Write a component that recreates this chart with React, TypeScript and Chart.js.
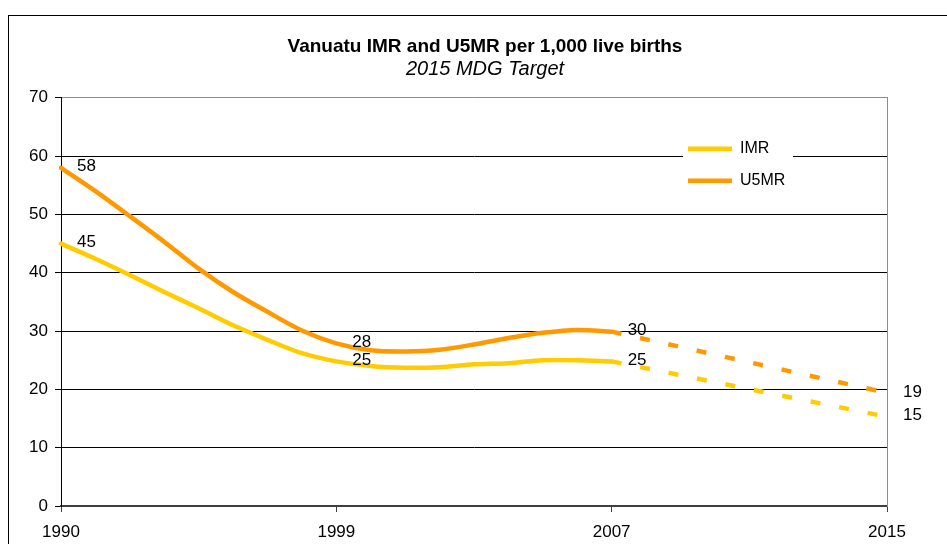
import React, { useEffect, useRef } from "react";
import { Chart, registerables } from "chart.js";

Chart.register(...registerables);

// ---- data ----
const categories = [
  "1990", "1991", "1992", "1993", "1994", "1995", "1996", "1997", "1999",
  "2000", "2001", "2002", "2003", "2004", "2005", "2006", "2007",
  "2008", "2009", "2010", "2011", "2012", "2013", "2014", "2015",
];
const tickIndices = [0, 8, 16, 24];

const imrSeries = [
  45, 42.4, 39.6, 36.7, 33.9, 31.0, 28.5, 26.2, 24.8,
  24.0, 23.7, 23.8, 24.3, 24.5, 25.0, 25.0, 24.8,
  null, null, null, null, null, null, null, null,
];
const u5mrSeries = [
  58, 54.0, 49.7, 45.3, 40.7, 36.7, 33.3, 30.1, 27.9,
  26.7, 26.5, 26.8, 27.7, 28.8, 29.7, 30.2, 29.9,
  null, null, null, null, null, null, null, null,
];
const imrTarget = [
  null, null, null, null, null, null, null, null, null,
  null, null, null, null, null, null, null, 24.8,
  null, null, null, null, null, null, null, 15.3,
];
const u5mrTarget = [
  null, null, null, null, null, null, null, null, null,
  null, null, null, null, null, null, null, 29.9,
  null, null, null, null, null, null, null, 19.4,
];
// which points carry a value label, per dataset index
const labelAt = [[0, 8, 16], [0, 8, 16], [24], [24]];

const yTicksMax = 70;
const titleText = "Vanuatu IMR and U5MR per 1,000 live births";
const subtitleText = "2015 MDG Target";

const IMR_COLOR = "#FFCC00";
const U5MR_COLOR = "#FF9900";
const FONT = '"Liberation Sans", Arial, sans-serif';

const frame = {
  id: "frame",
  beforeDraw(chart: any) {
    const c = chart.ctx;
    c.save();
    c.strokeStyle = "#000";
    c.lineWidth = 1;
    c.strokeRect(8.5, 15.5, 3000, 3000);
    c.restore();
  },
};

const legendPlacer = {
  id: "legendPlacer",
  afterLayout(chart: any) {
    const lg = chart.legend;
    if (!lg) return;
    const ca = chart.chartArea;
    const left = ca.right - 215;
    const top = ca.top + 27;
    lg.left = left;
    lg.top = top;
    lg.width = 130;
    lg.height = 90;
    lg.right = left + 130;
    lg.bottom = top + 90;
    if (!lg._wrappedDraw) {
      const orig = lg.draw.bind(lg);
      lg.draw = function (area: any) {
        const c = chart.ctx;
        const a = chart.chartArea;
        c.save();
        c.fillStyle = "#fff";
        c.fillRect(a.right - 204, a.top + 36, 110, 66);
        c.restore();
        orig(area);
      };
      lg._wrappedDraw = true;
    }
  },
};

const valueLabels = {
  id: "valueLabels",
  afterDatasetsDraw(chart: any) {
    const c = chart.ctx;
    c.save();
    c.font = `17px ${FONT}`;
    c.fillStyle = "#000";
    c.textAlign = "left";
    c.textBaseline = "middle";
    chart.data.datasets.forEach((ds: any, i: number) => {
      const meta = chart.getDatasetMeta(i);
      (labelAt[i] || []).forEach((j) => {
        const el = meta.data[j];
        const v = ds.data[j];
        if (!el || v == null) return;
        c.fillText(String(Math.round(v)), el.x + 16, el.y - 1);
      });
    });
    c.restore();
  },
};

export default function App() {
  const ref = useRef<HTMLCanvasElement>(null);

  useEffect(() => {
    if (!ref.current) return;
    Chart.defaults.font.family = FONT;
    Chart.defaults.color = "#000";
    const chart = new Chart(ref.current, {
      type: "line",
      data: {
        labels: categories,
        datasets: [
          {
            label: "IMR",
            data: imrSeries,
            borderColor: IMR_COLOR,
            backgroundColor: IMR_COLOR,
            borderWidth: 4.5,
            pointRadius: 0,
            tension: 0.3,
            borderCapStyle: "round",
            borderJoinStyle: "round",
            fill: false,
          },
          {
            label: "U5MR",
            data: u5mrSeries,
            borderColor: U5MR_COLOR,
            backgroundColor: U5MR_COLOR,
            borderWidth: 4.5,
            pointRadius: 0,
            tension: 0.3,
            borderCapStyle: "round",
            borderJoinStyle: "round",
            fill: false,
          },
          {
            label: "IMR target",
            data: imrTarget,
            borderColor: IMR_COLOR,
            borderWidth: 4.5,
            borderDash: [10, 19],
            pointRadius: 0,
            spanGaps: true,
            tension: 0,
            fill: false,
          },
          {
            label: "U5MR target",
            data: u5mrTarget,
            borderColor: U5MR_COLOR,
            borderWidth: 4.5,
            borderDash: [10, 19],
            pointRadius: 0,
            spanGaps: true,
            tension: 0,
            fill: false,
          },
        ],
      },
      options: {
        responsive: false,
        animation: false,
        layout: { padding: { left: 25, right: 2, top: 0, bottom: 0 } },
        plugins: {
          title: {
            display: true,
            text: titleText,
            color: "#000",
            font: { size: 19, weight: "bold", family: FONT },
            padding: { top: 35, bottom: 0 },
          },
          subtitle: {
            display: true,
            text: subtitleText,
            color: "#000",
            font: { size: 20, style: "italic", weight: "normal", family: FONT },
            padding: { top: 0, bottom: 16 },
          },
          legend: {
            display: true,
            position: "chartArea",
            align: "start",
            labels: {
              usePointStyle: true,
              pointStyle: "line",
              pointStyleWidth: 44,
              padding: 16,
              color: "#000",
              font: { size: 16, family: FONT },
              filter: (item: any) => item.datasetIndex < 2,
            },
          },
          tooltip: { enabled: false },
        },
        scales: {
          x: {
            type: "category",
            offset: false,
            grid: {
              display: true,
              drawOnChartArea: false,
              drawTicks: true,
              tickLength: 6,
              color: "#404040",
            },
            border: { display: true, color: "#404040", width: 2 },
            ticks: {
              autoSkip: false,
              maxRotation: 0,
              minRotation: 0,
              padding: 10,
              color: "#000",
              font: { size: 17 },
              callback: (_v: any, idx: number) =>
                tickIndices.includes(idx) ? categories[idx] : null,
            },
            afterFit: (s: any) => {
              s.height = 38;
            },
          },
          y: {
            min: 0,
            max: yTicksMax,
            position: "left",
            grid: {
              color: (ctx: any) => (ctx.tick && ctx.tick.value === yTicksMax ? "#8c8c8c" : "#000"),
              tickColor: "#000",
              lineWidth: 1,
              drawTicks: true,
              tickLength: 6,
            },
            border: { display: true, color: "#000", width: 1 },
            ticks: {
              stepSize: 10,
              padding: 7,
              color: "#000",
              font: { size: 17 },
            },
            afterFit: (s: any) => {
              s.width = 36;
            },
          },
          y2: {
            position: "right",
            display: true,
            min: 0,
            max: yTicksMax,
            grid: { display: false, drawTicks: false },
            ticks: { display: false },
            border: { display: true, color: "#8c8c8c", width: 1 },
            afterFit: (s: any) => {
              s.width = 58;
            },
          },
        },
      } as any,
      plugins: [frame, legendPlacer, valueLabels],
    });
    return () => chart.destroy();
  }, []);

  return (
    <div
      style={{
        position: "fixed",
        left: 0,
        top: 0,
        width: 947,
        height: 544,
        overflow: "hidden",
        background: "#fff",
      }}
    >
      <canvas ref={ref} width={947} height={544} style={{ display: "block" }} />
    </div>
  );
}
